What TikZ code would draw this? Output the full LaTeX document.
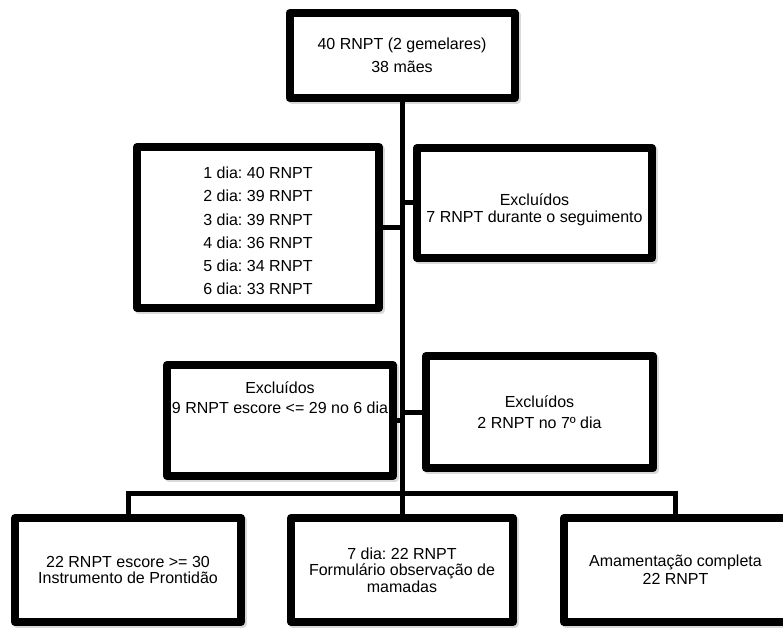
\documentclass[tikz,border=0pt]{standalone}
\usepackage{fontspec}
\setmainfont{Liberation Sans}
\usetikzlibrary{shadows}
\frenchspacing

\tikzset{
  box/.style={draw, line width=8pt, line join=round, fill=white, inner sep=0pt,
    general shadow={draw=black!15, line width=8pt, line join=round,
                    shadow xshift=2pt, shadow yshift=-2pt}},
  txt/.style={align=center, inner sep=0pt, font=\fontsize{16}{#1}\selectfont},
  txt/.default=20,
  conn/.style={line width=5pt}
}

\begin{document}
\begin{tikzpicture}[x=1pt,y=-1pt]
  \useasboundingbox (0,0) rectangle (783,628);
  % boxes
  \node[box, txt=23, minimum width=225pt, minimum height=85pt] (top) at (402,55.5)
       {40 RNPT (2 gemelares)\\38 mães};
  \node[box, minimum width=242pt, minimum height=161pt] (days) at (258,227.5) {};
  \node[txt=23.2] at ([yshift=-3.5pt]days.center)
       {1 dia: 40 RNPT\\2 dia: 39 RNPT\\3 dia: 39 RNPT\\4 dia: 36 RNPT\\5 dia: 34 RNPT\\6 dia: 33 RNPT};
  \node[box, minimum width=235pt, minimum height=110pt] (excl1) at (534.5,203) {};
  \node[txt=17] at ([yshift=-7pt]excl1.center) {Excluídos\\7 RNPT durante o seguimento};
  \node[box, minimum width=226pt, minimum height=111pt] (excl2) at (280,420.5) {};
  \node[txt] at ([yshift=23pt]excl2.center) {Excluídos\\9 RNPT escore <= 29 no 6 dia};
  \node[box, txt=21, minimum width=227pt, minimum height=112pt] (excl3) at (539.5,412)
       {Excluídos\\2 RNPT no 7º dia};
  %
  \node[box, txt=15.5, minimum width=226pt, minimum height=104pt] (botl) at (128,570)
       {22 RNPT escore >= 30\\Instrumento de Prontidão};
  \node[box, txt=16.5, minimum width=222pt, minimum height=104pt] (botm) at (402,570)
       {7 dia: 22 RNPT\\Formulário observação de\\mamadas};
  \node[box, txt=18, minimum width=223pt, minimum height=104pt] (botr) at (675.5,570)
       {Amamentação completa\\22 RNPT};
  % connectors
  \coordinate (fork) at (402,493);
  \draw[conn] (top) -- (botm);
  \draw[conn] (days.east) -- (days.east -| top.south);
  \draw[conn] (excl1.west) -- (excl1.west -| top.south);
  \draw[conn] (excl2.east) -- (excl2.east -| top.south);
  \draw[conn] (excl3.west) -- (excl3.west -| top.south);
  \draw[conn] (botl.north) |- (fork) -| (botr.north);
\end{tikzpicture}
\end{document}
